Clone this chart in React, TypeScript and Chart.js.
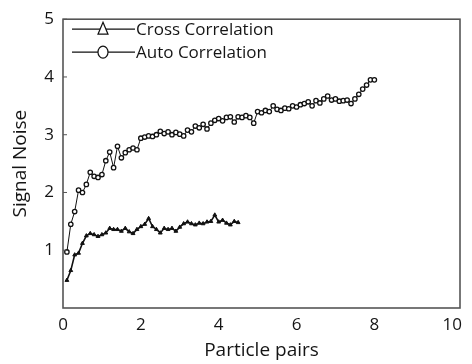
import React, { useEffect, useRef } from "react";
import { Chart, registerables } from "chart.js";

Chart.register(...registerables);

const xTicks = [0, 2, 4, 6, 8, 10];
const yTicks = [0, 1, 2, 3, 4, 5];

const autoX = [
  0.1, 0.2, 0.3, 0.4, 0.5, 0.6, 0.7, 0.8, 0.9, 1.0,
  1.1, 1.2, 1.3, 1.4, 1.5, 1.6, 1.7, 1.8, 1.9, 2.0,
  2.1, 2.2, 2.3, 2.4, 2.5, 2.6, 2.7, 2.8, 2.9, 3.0,
  3.1, 3.2, 3.3, 3.4, 3.5, 3.6, 3.7, 3.8, 3.9, 4.0,
  4.1, 4.2, 4.3, 4.4, 4.5, 4.6, 4.7, 4.8, 4.9, 5.0,
  5.1, 5.2, 5.3, 5.4, 5.5, 5.6, 5.7, 5.8, 5.9, 6.0,
  6.1, 6.2, 6.3, 6.4, 6.5, 6.6, 6.7, 6.8, 6.9, 7.0,
  7.1, 7.2, 7.3, 7.4, 7.5, 7.6, 7.7, 7.8, 7.9, 8.0,
];
const autoY = [
  0.97, 1.45, 1.67, 2.04, 2.0, 2.14, 2.35, 2.28, 2.26, 2.31,
  2.55, 2.7, 2.43, 2.8, 2.6, 2.69, 2.74, 2.77, 2.74, 2.94,
  2.96, 2.98, 2.97, 3.0, 3.06, 3.02, 3.05, 3.0, 3.04, 3.01,
  2.98, 3.08, 3.05, 3.15, 3.12, 3.18, 3.1, 3.2, 3.25, 3.28,
  3.24, 3.3, 3.31, 3.22, 3.31, 3.3, 3.33, 3.3, 3.2, 3.4,
  3.38, 3.42, 3.4, 3.5, 3.44, 3.42, 3.46, 3.45, 3.5, 3.48,
  3.52, 3.54, 3.57, 3.5, 3.59, 3.55, 3.62, 3.67, 3.6, 3.62,
  3.58, 3.59, 3.6, 3.54, 3.62, 3.7, 3.79, 3.86, 3.95, 3.95,
];

const crossX = [
  0.1, 0.2, 0.3, 0.4, 0.5, 0.6, 0.7, 0.8, 0.9, 1.0,
  1.1, 1.2, 1.3, 1.4, 1.5, 1.6, 1.7, 1.8, 1.9, 2.0,
  2.1, 2.2, 2.3, 2.4, 2.5, 2.6, 2.7, 2.8, 2.9, 3.0,
  3.1, 3.2, 3.3, 3.4, 3.5, 3.6, 3.7, 3.8, 3.9, 4.0,
  4.1, 4.2, 4.3, 4.4, 4.5,
];
const crossY = [
  0.48, 0.65, 0.92, 0.95, 1.12, 1.25, 1.29, 1.27, 1.24, 1.27,
  1.3, 1.38, 1.36, 1.36, 1.33, 1.38, 1.32, 1.29, 1.36, 1.41,
  1.45, 1.55, 1.41, 1.36, 1.3, 1.38, 1.36, 1.38, 1.33, 1.4,
  1.46, 1.49, 1.46, 1.44, 1.47, 1.46, 1.49, 1.5, 1.61, 1.49,
  1.52, 1.47, 1.44, 1.5, 1.48,
];

const seriesNames = ["Cross Correlation", "Auto Correlation"];
const xTitle = "Particle pairs";
const yTitle = "Signal Noise";

const FONT = "'Open Sans', sans-serif";
const TEXT = "#151515";
const FRAME = "#555";

const framePlugin = {
  id: "frameLegend",
  afterDraw(chart: any) {
    const { ctx, chartArea } = chart;
    const yScale = chart.scales.y;
    ctx.save();
    ctx.strokeStyle = FRAME;
    ctx.lineWidth = 1.6;
    ctx.strokeRect(chartArea.left, chartArea.top, chartArea.right - chartArea.left, chartArea.bottom - chartArea.top);
    ctx.lineWidth = 1;
    yTicks.forEach((v) => {
      if (v === 0) return;
      const py = yScale.getPixelForValue(v);
      ctx.beginPath();
      ctx.moveTo(chartArea.left, py);
      ctx.lineTo(chartArea.left + 4, py);
      ctx.stroke();
    });
    // legend
    const lx0 = chartArea.left + 9;
    const lx1 = chartArea.left + 72;
    const mx = chartArea.left + 40;
    const rows = [chartArea.top + 10, chartArea.top + 33];
    ctx.strokeStyle = "#111";
    ctx.font = `17px ${FONT}`;
    ctx.textBaseline = "middle";
    ctx.textAlign = "left";
    rows.forEach((ry, i) => {
      ctx.lineWidth = 1.2;
      ctx.beginPath();
      ctx.moveTo(lx0, ry);
      ctx.lineTo(lx1, ry);
      ctx.stroke();
      ctx.fillStyle = "#fff";
      ctx.beginPath();
      if (i === 0) {
        ctx.moveTo(mx, ry - 7);
        ctx.lineTo(mx + 5, ry + 5);
        ctx.lineTo(mx - 5, ry + 5);
        ctx.closePath();
      } else {
        ctx.ellipse(mx, ry, 5, 6, 0, 0, Math.PI * 2);
      }
      ctx.fill();
      ctx.stroke();
      ctx.fillStyle = TEXT;
      ctx.fillText(seriesNames[i], lx1 + 1, ry + 1);
    });
    ctx.restore();
  },
};

export default function App() {
  const ref = useRef<HTMLCanvasElement | null>(null);
  useEffect(() => {
    if (!ref.current) return;
    const chart = new Chart(ref.current, {
      type: "line",
      data: {
        datasets: [
          {
            label: seriesNames[0],
            data: crossX.map((x, i) => ({ x, y: crossY[i] })),
            borderColor: "#111",
            borderWidth: 1.6,
            pointStyle: "triangle",
            pointRadius: 2.2,
            pointBorderWidth: 1,
            pointBorderColor: "#111",
            pointBackgroundColor: "#111",
            tension: 0,
          },
          {
            label: seriesNames[1],
            data: autoX.map((x, i) => ({ x, y: autoY[i] })),
            borderColor: "#111",
            borderWidth: 1,
            pointStyle: "circle",
            pointRadius: 2.2,
            pointBorderWidth: 1.3,
            pointBorderColor: "#111",
            pointBackgroundColor: "#fff",
            tension: 0,
          },
        ],
      },
      options: {
        animation: false,
        responsive: false,
        layout: { padding: { top: 13, right: 12, left: 0, bottom: 0 } },
        plugins: { legend: { display: false }, tooltip: { enabled: false } },
        scales: {
          x: {
            type: "linear",
            min: 0,
            max: 10.2,
            afterBuildTicks: (scale: any) => {
              scale.ticks = xTicks.map((v) => ({ value: v }));
            },
            afterFit: (scale: any) => {
              scale.height = 56;
            },
            grid: { display: false, drawTicks: false },
            border: { display: false },
            ticks: { color: TEXT, font: { family: FONT, size: 17 }, padding: 7, maxRotation: 0 },
            title: {
              display: true,
              text: xTitle,
              color: TEXT,
              font: { family: FONT, size: 19 },
              padding: { top: 0, bottom: 2 },
            },
          },
          y: {
            type: "linear",
            min: 0,
            max: 5,
            afterBuildTicks: (scale: any) => {
              scale.ticks = yTicks.map((v) => ({ value: v }));
            },
            afterFit: (scale: any) => {
              scale.width = 63;
            },
            grid: { display: false, drawTicks: false },
            border: { display: false },
            ticks: {
              color: TEXT,
              font: { family: FONT, size: 17 },
              padding: 9,
              callback: (v: any) => (v === 0 ? "" : String(v)),
            },
            title: {
              display: true,
              text: yTitle,
              color: TEXT,
              font: { family: FONT, size: 19 },
              padding: { top: 9, bottom: 0 },
            },
          },
        },
      },
      plugins: [framePlugin],
    });
    return () => chart.destroy();
  }, []);
  return (
    <div style={{ position: "fixed", left: 0, top: 0, width: 472, height: 364, background: "#fff" }}>
      <canvas ref={ref} width={472} height={364} style={{ width: 472, height: 364 }} />
    </div>
  );
}
